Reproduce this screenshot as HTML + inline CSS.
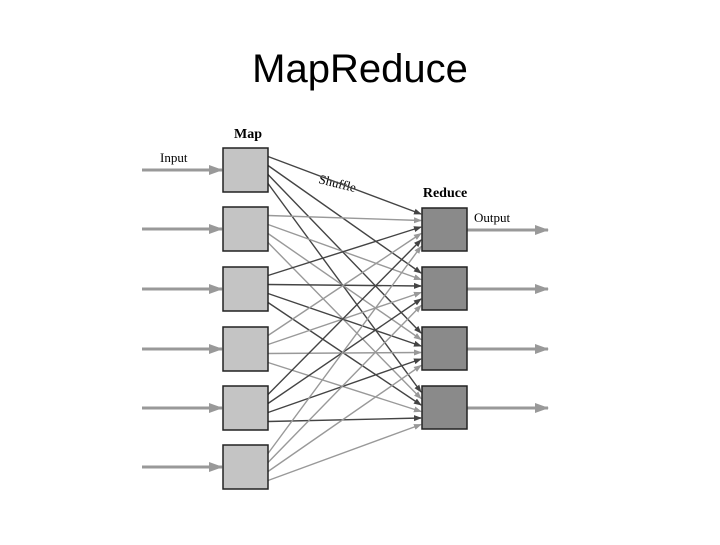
<!DOCTYPE html>
<html><head><style>
body{margin:0;width:720px;height:540px;background:#fff;overflow:hidden}
</style></head><body>
<svg width="720" height="540" xmlns="http://www.w3.org/2000/svg">
<defs>
<marker id="ad" markerWidth="8" markerHeight="8" refX="7" refY="3" orient="auto" markerUnits="userSpaceOnUse" viewBox="0 0 8 6"><path d="M0,0 L8,3 L0,6z" fill="#444"/></marker>
<marker id="al" markerWidth="8" markerHeight="8" refX="7" refY="3" orient="auto" markerUnits="userSpaceOnUse" viewBox="0 0 8 6"><path d="M0,0 L8,3 L0,6z" fill="#999"/></marker>
<marker id="ab" markerWidth="14" markerHeight="12" refX="13" refY="5" orient="auto" markerUnits="userSpaceOnUse" viewBox="0 0 14 10"><path d="M0,0 L14,5 L0,10z" fill="#999"/></marker>
</defs>
<text x="360" y="82" text-anchor="middle" font-family="Liberation Sans, sans-serif" font-size="40">MapReduce</text>
<text x="248" y="138" text-anchor="middle" font-family="Liberation Serif, serif" font-weight="bold" font-size="14">Map</text>
<text x="445" y="197" text-anchor="middle" font-family="Liberation Serif, serif" font-weight="bold" font-size="14">Reduce</text>
<text x="160" y="162" font-family="Liberation Serif, serif" font-size="13">Input</text>
<text x="474" y="222" font-family="Liberation Serif, serif" font-size="13">Output</text>
<text x="318" y="183" font-family="Liberation Serif, serif" font-size="13" transform="rotate(14 318 183)">Shuffle</text>
<g id="lines"></g>
<g id="boxes"></g>
</svg>
<script>
var ns="http://www.w3.org/2000/svg",svg=document.querySelector('svg');
var L=document.getElementById('lines'),B=document.getElementById('boxes');
var mt=[148,207,267,327,386,445],rt=[208,267,327,386];
function el(t,a,p){var e=document.createElementNS(ns,t);for(var k in a)e.setAttribute(k,a[k]);p.appendChild(e);return e;}
for(var j=0;j<6;j++){
  el('line',{x1:142,y1:mt[j]+22,x2:222,y2:mt[j]+22,stroke:'#999','stroke-width':3,'marker-end':'url(#ab)'},L);
  var dark=(j%2==0);
  for(var k=0;k<4;k++){
    var sy=mt[j]+22+(k-1.5)*9;
    var ey=rt[k]+6+j*6.5;
    el('line',{x1:268,y1:sy,x2:421,y2:ey,stroke:dark?'#444':'#999','stroke-width':1.4,'marker-end':dark?'url(#ad)':'url(#al)'},L);
  }
  el('rect',{x:223,y:mt[j],width:45,height:44,fill:'#c4c4c4',stroke:'#222','stroke-width':1.5},B);
}
for(var k=0;k<4;k++){
  el('line',{x1:467,y1:rt[k]+22,x2:548,y2:rt[k]+22,stroke:'#999','stroke-width':3,'marker-end':'url(#ab)'},L);
  el('rect',{x:422,y:rt[k],width:45,height:43,fill:'#8a8a8a',stroke:'#222','stroke-width':1.5},B);
}
</script>
</body></html>
